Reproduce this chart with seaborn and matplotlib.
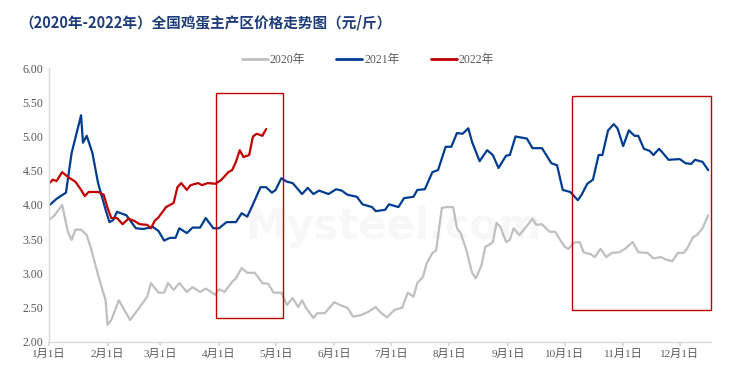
import pandas as pd
import seaborn as sns
import matplotlib.pyplot as plt
from matplotlib.patches import Rectangle

# Egg prices (days counted from Jan 1)
days_2020 = [0, 3, 7, 10, 12, 14, 17, 20, 22, 27, 30, 31, 33, 37, 39, 43, 47, 52, 54, 56,
             58, 61, 63, 66, 69, 73, 76, 80, 83, 88, 90, 93, 97, 99, 102, 105, 109, 113, 116, 119,
             123, 126, 129, 132, 134, 136, 140, 142, 146, 151, 155, 158, 161, 165, 169, 173, 176, 179, 183, 187,
             190, 193, 195, 198, 200, 203, 205, 208, 211, 214, 216, 218, 221, 224, 226, 229, 231, 233, 235, 237,
             239, 242, 244, 246, 249, 252, 256, 258, 261, 265, 268, 270, 273, 275, 278, 281, 283, 287, 289, 292,
             295, 298, 302, 305, 309, 312, 317, 320, 324, 327, 330, 333, 336, 338, 341, 343, 346, 349]
price_2020 = [3.78, 3.85, 4.00, 3.61, 3.49, 3.64, 3.64, 3.56, 3.39, 2.88, 2.61, 2.25, 2.32, 2.61, 2.51, 2.32, 2.47, 2.66, 2.86, 2.79,
              2.72, 2.72, 2.86, 2.76, 2.86, 2.73, 2.80, 2.73, 2.78, 2.69, 2.77, 2.73, 2.88, 2.93, 3.08, 3.01, 3.01, 2.86, 2.85, 2.72,
              2.72, 2.54, 2.64, 2.51, 2.61, 2.50, 2.35, 2.42, 2.42, 2.58, 2.53, 2.50, 2.37, 2.39, 2.44, 2.51, 2.42, 2.36, 2.47, 2.50,
              2.72, 2.66, 2.86, 2.95, 3.15, 3.30, 3.34, 3.96, 3.97, 3.97, 3.66, 3.59, 3.34, 3.01, 2.93, 3.12, 3.39, 3.42, 3.46, 3.74,
              3.68, 3.46, 3.49, 3.66, 3.56, 3.66, 3.80, 3.71, 3.72, 3.61, 3.61, 3.52, 3.39, 3.36, 3.45, 3.46, 3.31, 3.28, 3.24, 3.36,
              3.24, 3.30, 3.31, 3.36, 3.46, 3.31, 3.30, 3.22, 3.24, 3.20, 3.18, 3.30, 3.30, 3.37, 3.53, 3.56, 3.66, 3.85]

days_2021 = [0, 4, 9, 12, 17, 18, 20, 23, 26, 30, 32, 34, 36, 41, 46, 50, 55, 58, 61, 64,
             67, 69, 73, 76, 80, 83, 87, 90, 94, 99, 102, 105, 108, 112, 115, 118, 120, 123, 126, 129,
             134, 137, 140, 143, 148, 152, 155, 158, 163, 166, 171, 173, 178, 180, 185, 188, 193, 195, 199, 203,
             206, 210, 213, 216, 219, 222, 224, 228, 232, 235, 238, 242, 244, 247, 253, 256, 261, 266, 269, 272,
             276, 280, 282, 285, 288, 291, 293, 296, 299, 301, 304, 307, 310, 312, 315, 318, 320, 323, 325, 328,
             334, 337, 340, 342, 346, 349]
price_2021 = [3.99, 4.09, 4.18, 4.76, 5.31, 4.91, 5.01, 4.76, 4.32, 3.93, 3.75, 3.78, 3.90, 3.85, 3.66, 3.65, 3.68, 3.62, 3.48, 3.52,
              3.52, 3.66, 3.59, 3.67, 3.67, 3.81, 3.66, 3.66, 3.75, 3.75, 3.88, 3.83, 4.01, 4.26, 4.26, 4.18, 4.22, 4.39, 4.34, 4.32,
              4.16, 4.25, 4.16, 4.21, 4.16, 4.23, 4.21, 4.15, 4.12, 4.01, 3.97, 3.91, 3.93, 4.01, 3.97, 4.10, 4.12, 4.22, 4.23, 4.48,
              4.51, 4.85, 4.85, 5.05, 5.04, 5.12, 4.92, 4.64, 4.80, 4.73, 4.54, 4.72, 4.73, 5.00, 4.97, 4.83, 4.83, 4.61, 4.58, 4.22,
              4.19, 4.07, 4.15, 4.31, 4.37, 4.73, 4.73, 5.09, 5.18, 5.12, 4.86, 5.09, 5.01, 5.01, 4.82, 4.79, 4.73, 4.82, 4.76, 4.66,
              4.67, 4.61, 4.60, 4.66, 4.63, 4.51]

days_2022 = [0, 2, 4, 7, 10, 14, 17, 19, 21, 26, 29, 31, 33, 36, 39, 42, 45, 48, 52, 54,
             56, 58, 62, 66, 68, 70, 73, 75, 79, 81, 84, 88, 91, 95, 97, 99, 101, 103, 106, 108,
             110, 113, 115]
price_2022 = [4.31, 4.37, 4.35, 4.48, 4.41, 4.34, 4.22, 4.13, 4.19, 4.19, 4.15, 3.96, 3.81, 3.81, 3.72, 3.80, 3.77, 3.72, 3.71, 3.66,
              3.77, 3.82, 3.97, 4.03, 4.26, 4.32, 4.22, 4.29, 4.32, 4.29, 4.32, 4.31, 4.36, 4.48, 4.51, 4.63, 4.80, 4.70, 4.73, 5.00,
              5.04, 5.01, 5.11]

years = ['2020年', '2021年', '2022年']
colors = ['#BFBFBF', '#003C8F', '#C00000']
yticks = [2.0, 2.5, 3.0, 3.5, 4.0, 4.5, 5.0, 5.5, 6.0]

base = pd.Timestamp('2021-01-01')
frames = []
for year, d, p in zip(years, [days_2020, days_2021, days_2022], [price_2020, price_2021, price_2022]):
    frames.append(pd.DataFrame({'date': base + pd.to_timedelta(d, unit='D'), 'price': p, 'year': year}))
data = pd.concat(frames, ignore_index=True)

sns.set_theme(style='white')
plt.rcParams['font.family'] = ['Liberation Serif', 'Noto Sans CJK SC', 'DejaVu Sans']

fig = plt.figure(figsize=(7.33, 3.88), dpi=100)
ax = fig.add_axes([0.0668, 0.1186, 0.9032, 0.7061])

# faint watermark
ax.text(0.52, 0.42, 'Mysteel.com', transform=ax.transAxes, ha='center', va='center',
        fontsize=30, color='#F7F7F7', family=['DejaVu Sans'], fontweight='bold', zorder=0)

sns.lineplot(data=data, x='date', y='price', hue='year', palette=dict(zip(years, colors)),
             linewidth=1.6, sort=False, legend=False, ax=ax)

# highlight boxes
ax.add_patch(Rectangle((base + pd.Timedelta(days=88.4), 2.35), pd.Timedelta(days=35.4), 3.29,
                       fill=False, edgecolor='#C00000', linewidth=1.0, zorder=5))
ax.add_patch(Rectangle((base + pd.Timedelta(days=276.7), 2.47), pd.Timedelta(days=73.6), 3.12,
                       fill=False, edgecolor='#C00000', linewidth=1.0, zorder=5, clip_on=False))

ax.set_xlim(base, base + pd.Timedelta(days=350.5))
ax.set_ylim(2, 6)
ax.set_yticks(yticks)
ax.set_yticklabels([f'{v:.2f}' for v in yticks])
months = pd.date_range('2021-01-01', '2021-12-01', freq='MS')
ax.set_xticks(months)
ax.set_xticklabels([f'{m.month}月1日' for m in months])
ax.set_xlabel('')
ax.set_ylabel('')

for side in ['top', 'right']:
    ax.spines[side].set_visible(False)
for side in ['left', 'bottom']:
    ax.spines[side].set_color('#D9D9D9')
    ax.spines[side].set_linewidth(1.0)
ax.tick_params(axis='x', length=3, color='#D9D9D9', labelsize=8, labelcolor='#595959', pad=2, direction='out', bottom=True)
ax.tick_params(axis='y', length=0, labelsize=8.5, labelcolor='#595959', pad=4)

handles = [plt.Line2D([], [], color=c, linewidth=2) for c in colors]
fig.legend(handles, years, loc='center', bbox_to_anchor=(0.502, 0.845), ncol=3, frameon=False,
           fontsize=8.5, labelcolor='#595959', handlelength=2.2, handletextpad=0.2, columnspacing=2.6)

fig.text(0.027, 0.943, '（2020年-2022年）全国鸡蛋主产区价格走势图（元/斤）', fontsize=10.5,
         fontweight='bold', color='#1F3D7A', va='center', ha='left',
         family=['Noto Sans CJK SC', 'DejaVu Sans'])

plt.savefig('out.png', dpi=100)
